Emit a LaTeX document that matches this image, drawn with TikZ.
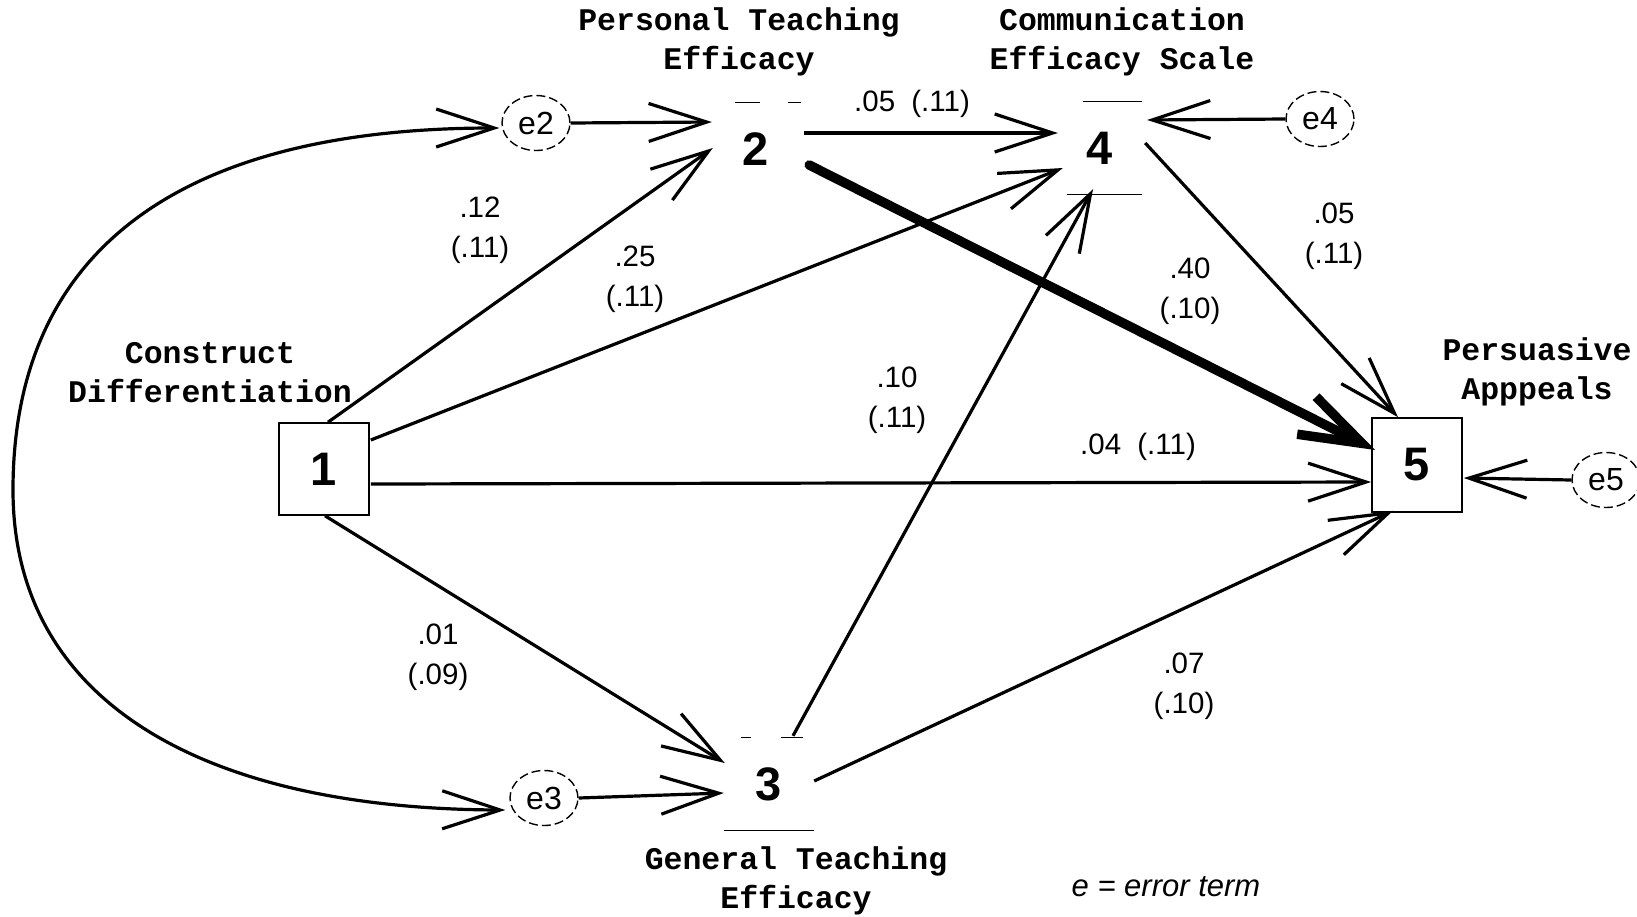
\documentclass[tikz,border=0pt]{standalone}
\usepackage{fontspec}
\setmainfont{Liberation Sans}
\newfontfamily\labelmono{Liberation Mono}
\usetikzlibrary{arrows.meta,calc,shapes.geometric}

\begin{document}
\begin{tikzpicture}[x=1pt,y=-1pt,
  var/.style={minimum width=90pt,minimum height=92pt,inner sep=0pt,
    font=\fontsize{47}{47}\selectfont\bfseries},
  boxed/.style={draw,line width=1.6pt},
  err/.style={ellipse,draw,dash pattern=on 9pt off 4pt,line width=1.4pt,
    minimum width=68pt,minimum height=55pt,inner sep=0pt,
    font=\fontsize{32}{32}\selectfont},
  link/.style={line width=3.2pt,-{Straight Barb[length=58pt,width=38pt]}},
  heavy/.style={line width=9.5pt,line cap=round,-{Straight Barb[length=62pt,width=42pt]}},
  coef/.style={align=center,font=\fontsize{29.5}{40}\selectfont},
  vlabel/.style={align=center,font=\labelmono\bfseries\fontsize{31.5}{39}\selectfont},
  faint/.style={line width=1.3pt}
]
\useasboundingbox (0,0) rectangle (1637,916);

% observed variables
\node[var,boxed] (n1) at (324,469) {1};
\node[var] (n2) at (756,149) {2};
\node[var] (n3) at (769,784) {3};
\node[var] (n4) at (1100,148) {4};
\node[var,boxed,minimum height=94pt] (n5) at (1417,465) {5};

% faint box edges around 2, 3 and 4
\draw[faint,dash pattern=on 25pt off 28pt] ($(n2.north west)+(24,0)$) -- (n2.north east);
\draw[faint] ($(n4.north west)+(28,0)$) -- ($(n4.north east)+(-3,0)$);
\draw[faint] ($(n4.south west)+(12,0)$) -- ($(n4.south east)+(-3,0)$);
\draw[faint,dash pattern=on 10pt off 30pt on 22pt off 40pt] ($(n3.north west)+(17,0)$) -- (n3.north east);
\draw[faint] (n3.south west) -- (n3.south east);

% error terms
\node[err] (e2) at (536,123) {e2};
\node[err] (e3) at (544,798) {e3};
\node[err] (e4) at (1320,119) {e4};
\node[err] (e5) at (1606,480) {e5};

% variable names
\node[vlabel] (t1) at (210,373) {Construct\\Differentiation};
\node[vlabel] (t2) at (739,42) {Personal Teaching\\Efficacy};
\node[vlabel] (t4) at (1122,42) {Communication\\Efficacy Scale};
\node[vlabel] (t3) at (796,881) {General Teaching\\Efficacy};
\node[vlabel] (t5) at (1537,372) {Persuasive\\Apppeals};

% paths
\draw[link] (e2.east) -- ($(n2.west)+(1,-27)$);
\draw[link] ($(n1.north)+(4,0)$) -- ($(n2.west)+(2,-1)$);
\draw[link] ($(n1.east)+(1,-29)$) -- ($(n4.west)+(8,20)$);
\draw[link] ($(n1.east)+(1,15)$) -- ($(n5.west)+(0,17)$);
\draw[link] ($(n1.south)+(1,0)$) -- ($(n3.west)+(1,-21)$);
\draw[link] (e3.east) -- ($(n3.west)+(0,9)$);
\draw[link] ($(n2.east)+(3,-16)$) -- ($(n4.west)+(3,-15)$);
\draw[heavy] ($(n2.east)+(8,16)$) -- ($(n5.west)+(4,-15)$);
\draw[link] (e4.west) -- ($(n4.east)+(2,-28)$);
\draw[link] ($(n4.east)+(0,-5)$) -- ($(n5.north)+(-19,0)$);
\draw[link] ($(n3.north)+(24,-2)$) -- ($(n4.south)+(-7,-5)$);
\draw[link] ($(n3.east)+(0,-3)$) -- ($(n5.south)+(-24,-2)$);
\draw[link] (e5.west) -- ($(n5.east)+(1,13)$);

% correlation between the error terms of 2 and 3
\draw[line width=3.2pt,{Straight Barb[length=58pt,width=38pt]}-{Straight Barb[length=58pt,width=38pt]}]
  ($(e2.west)+(-2,5)$) .. controls (180,128) and (13,250) .. (13,490)
  .. controls (13,700) and (200,809) .. ($(e3.west)+(-4,12)$);

% coefficients (standard errors)
\node[coef] (c24) at (912,104) {.05\hspace{0.55em}(.11)};
\node[coef] (c12) at (480,230) {.12\\(.11)};
\node[coef] (c14) at (635,279) {.25\\(.11)};
\node[coef] (c25) at (1190,291) {.40\\(.10)};
\node[coef] (c45) at (1334,236) {.05\\(.11)};
\node[coef] (c34) at (897,400) {.10\\(.11)};
\node[coef] (c15) at (1138,447) {.04\hspace{0.55em}(.11)};
\node[coef] (c13) at (438,657) {.01\\(.09)};
\node[coef] (c35) at (1184,686) {.07\\(.10)};

\node[font=\fontsize{31}{31}\selectfont\itshape] (key) at (1166,887) {e = error term};
\end{tikzpicture}
\end{document}
